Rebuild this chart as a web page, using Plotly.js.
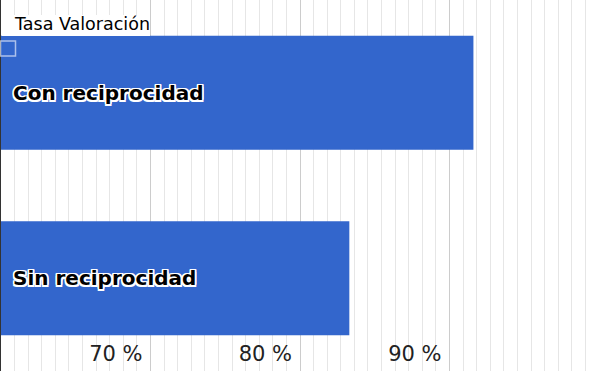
<!DOCTYPE html>
<html>
<head>
<meta charset="utf-8">
<script src="https://cdn.plot.ly/plotly-3.0.1.min.js"></script>
<style>
  html, body { margin: 0; padding: 0; background: #fff; }
  #chart { width: 600px; height: 371px; }
</style>
</head>
<body>
<div id="chart"></div>
<script>
const categories = ['Con reciprocidad', 'Sin reciprocidad'];
const values = [91.6, 83.3];
const axisStart = 60;
const tickValues = [60, 70, 80, 90, 100];
const tickLabels = ['', '70 %', '80 %', '90 %', ''];
const chartTitle = 'Tasa Valoración';

const outline = '-1.5px -1.5px 0 #fff, 1.5px -1.5px 0 #fff, -1.5px 1.5px 0 #fff, 1.5px 1.5px 0 #fff, 0 1.5px 0 #fff, 0 -1.5px 0 #fff, 1.5px 0 0 #fff, -1.5px 0 0 #fff';

const trace = {
  type: 'bar',
  orientation: 'h',
  y: categories,
  x: values.map(v => v - axisStart),
  base: axisStart,
  marker: { color: '#3366cc', line: { width: 0 } },
  hoverinfo: 'none'
};

const annotations = categories.map(c => ({
  x: axisStart, xref: 'x', y: c, yref: 'y',
  xanchor: 'left', yanchor: 'middle', xshift: 10,
  text: '<b>' + c + '</b>', showarrow: false,
  font: { family: 'DejaVu Sans', size: 20, color: '#000', shadow: outline }
}));
annotations.push({
  x: 0, xref: 'paper', y: 1 - 24 / 371, yref: 'paper',
  xanchor: 'left', yanchor: 'middle', xshift: 11,
  text: chartTitle, showarrow: false,
  font: { family: 'DejaVu Sans', size: 17.5, color: '#000' }
});

const layout = {
  width: 600, height: 371,
  margin: { l: 1, r: 1, t: 0, b: 0, pad: 0 },
  paper_bgcolor: '#fff', plot_bgcolor: '#fff',
  showlegend: false,
  bargap: 0.385,
  xaxis: {
    range: [60, 100],
    tickmode: 'array', tickvals: tickValues, ticktext: tickLabels,
    ticklabelposition: 'inside left',
    ticklabelshift: -8,
    ticks: '', showline: false, zeroline: false,
    showgrid: true, gridcolor: '#cccccc', gridwidth: 1,
    minor: { tick0: 60, dtick: 10 / 11, showgrid: true, gridcolor: '#e6e6e6', gridwidth: 1, ticks: '' },
    tickfont: { family: 'DejaVu Sans', size: 21, color: '#222' },
    fixedrange: true
  },
  yaxis: {
    range: [1.5, -0.5],
    autorange: false,
    showticklabels: false, ticks: '',
    showgrid: false, zeroline: false,
    showline: true, linecolor: '#333333', linewidth: 1,
    fixedrange: true
  },
  shapes: [
    { type: 'rect', xref: 'paper', yref: 'paper', layer: 'above',
      x0: 1 / 598, x1: 149 / 598, y0: 1 - 36 / 371, y1: 1 - 15 / 371,
      fillcolor: '#fff', line: { width: 0 } },
    { type: 'rect', xref: 'paper', yref: 'paper', layer: 'above',
      x0: -0.5 / 598, x1: 14.5 / 598, y0: 1 - 56 / 371, y1: 1 - 41 / 371,
      fillcolor: 'rgba(0,0,0,0)', line: { color: 'rgba(225,232,250,0.7)', width: 1.5 } }
  ],
  annotations: annotations
};

Plotly.newPlot('chart', [trace], layout, { displayModeBar: false, staticPlot: true });
</script>
</body>
</html>
